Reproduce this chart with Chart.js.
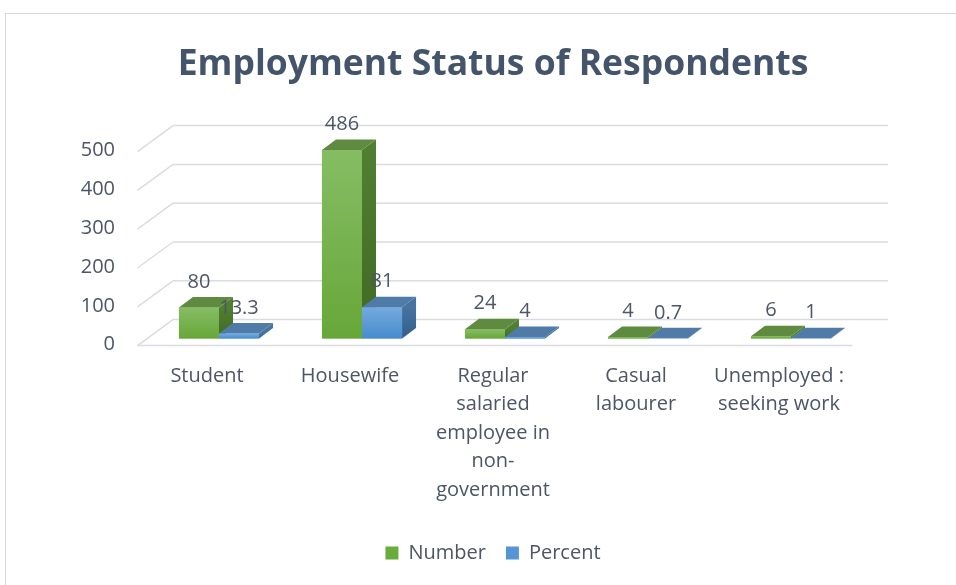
<!DOCTYPE html>
<html>
<head>
<meta charset="utf-8">
<title>Employment Status of Respondents</title>
<script src="https://cdn.jsdelivr.net/npm/chart.js@4.4.0/dist/chart.umd.min.js"></script>
<style>
  html, body { margin: 0; padding: 0; background: #fff; }
  canvas { display: block; }
</style>
</head>
<body>
<canvas id="chart" width="956" height="585"></canvas>
<script>
const categories = [
  'Student',
  'Housewife',
  ['Regular', 'salaried', 'employee in', 'non-', 'government'],
  ['Casual', 'labourer'],
  ['Unemployed :', 'seeking work']
];
const numberValues = [80, 486, 24, 4, 6];
const percentValues = [13.3, 81, 4, 0.7, 1];
const yTicks = [0, 100, 200, 300, 400, 500];

const FONT = '"Open Sans", "Liberation Sans", sans-serif';
const TEXT = '#4d5566';
const GRID = '#d9dce1';

// fake 3d: offsets of the bar depth, the front floor edge and the back wall
const BAR_DEPTH = { dx: 14, dy: -10.5 };
const FRONT_EDGE = { dx: -10, dy: 7 };
const BACK_WALL = { dx: 25.5, dy: -19 };

const faces = [
  { front: ['#86bd64', '#67a739'], side: ['#517f31', '#3e6a22'], top: '#5f8b40' },
  { front: ['#74abde', '#478bcd'], side: ['#46739f', '#325e8b'], top: '#4f7ba6' }
];

function line(ctx, x1, y1, x2, y2) {
  ctx.beginPath();
  ctx.moveTo(x1, y1);
  ctx.lineTo(x2, y2);
  ctx.stroke();
}

function vGradient(ctx, top, bottom, stops) {
  const g = ctx.createLinearGradient(0, top, 0, Math.max(bottom, top + 1));
  g.addColorStop(0, stops[0]);
  g.addColorStop(1, stops[1]);
  return g;
}

function drawBox(ctx, bar, face) {
  const { x, y, base, width } = bar.getProps(['x', 'y', 'base', 'width'], true);
  const x0 = x - width / 2, x1 = x + width / 2;
  const { dx, dy } = BAR_DEPTH;

  ctx.fillStyle = vGradient(ctx, y, base, face.side);
  ctx.beginPath();
  ctx.moveTo(x1, y);
  ctx.lineTo(x1 + dx, y + dy);
  ctx.lineTo(x1 + dx, base + dy);
  ctx.lineTo(x1, base);
  ctx.closePath();
  ctx.fill();

  ctx.fillStyle = face.top;
  ctx.beginPath();
  ctx.moveTo(x0, y);
  ctx.lineTo(x0 + dx, y + dy);
  ctx.lineTo(x1 + dx, y + dy);
  ctx.lineTo(x1, y);
  ctx.closePath();
  ctx.fill();

  ctx.fillStyle = vGradient(ctx, y, base, face.front);
  ctx.fillRect(x0, y, x1 - x0, base - y);
}

const depthPlugin = {
  id: 'depth',

  beforeDraw(chart) {
    const ctx = chart.ctx;
    ctx.save();
    ctx.strokeStyle = '#d9d9d9';
    ctx.lineWidth = 1;
    ctx.strokeRect(5.5, 13.5, chart.width, chart.height);
    ctx.restore();
  },

  beforeDatasetsDraw(chart) {
    const ctx = chart.ctx;
    const { left, right } = chart.chartArea;
    const y = chart.scales.y;

    ctx.save();
    ctx.strokeStyle = GRID;
    ctx.lineWidth = 1.5;
    y.ticks.forEach(t => {
      const py = y.getPixelForValue(t.value);
      line(ctx, left + BACK_WALL.dx, py + BACK_WALL.dy, right + BACK_WALL.dx, py + BACK_WALL.dy);
      line(ctx, left + FRONT_EDGE.dx, py + FRONT_EDGE.dy, left + BACK_WALL.dx, py + BACK_WALL.dy);
    });
    const p0 = y.getPixelForValue(0);
    line(ctx, left + FRONT_EDGE.dx, p0 + FRONT_EDGE.dy, right + FRONT_EDGE.dx, p0 + FRONT_EDGE.dy);
    ctx.restore();
  },

  afterDatasetsDraw(chart) {
    const ctx = chart.ctx;
    const metas = chart.data.datasets.map((ds, i) => chart.getDatasetMeta(i));

    ctx.save();
    categories.forEach((c, i) => {
      metas.forEach((meta, d) => drawBox(ctx, meta.data[i], faces[d]));
    });

    ctx.fillStyle = TEXT;
    ctx.font = '20px ' + FONT;
    ctx.textAlign = 'center';
    ctx.textBaseline = 'middle';
    metas.forEach((meta, d) => {
      meta.data.forEach((bar, i) => {
        const value = chart.data.datasets[d].data[i];
        ctx.fillText(String(value), bar.x, bar.y + BAR_DEPTH.dy - 15);
      });
    });
    ctx.restore();
  }
};

function draw() {
  new Chart(document.getElementById('chart'), {
    type: 'bar',
    data: {
      labels: categories,
      datasets: [
        { label: 'Number', data: numberValues, backgroundColor: '#6aab3e', borderWidth: 0 },
        { label: 'Percent', data: percentValues, backgroundColor: '#5595d4', borderWidth: 0 }
      ]
    },
    options: {
      responsive: false,
      animation: false,
      datasets: {
        bar: { categoryPercentage: 0.56, barPercentage: 1 }
      },
      layout: { padding: { left: 30, right: 0, top: 10, bottom: 12 } },
      scales: {
        x: {
          grid: { display: false, drawTicks: false },
          border: { display: false },
          ticks: {
            autoSkip: false,
            maxRotation: 0,
            padding: 23,
            labelOffset: -12,
            color: TEXT,
            font: { family: FONT, size: 20, lineHeight: 1.43 }
          },
          afterFit(scale) { scale.height = 184.4; }
        },
        y: {
          min: 0,
          max: 500,
          grid: { display: false, drawTicks: false },
          border: { display: false },
          ticks: {
            padding: 32.5,
            labelOffset: 6,
            color: TEXT,
            font: { family: FONT, size: 20 }
          },
          afterBuildTicks(scale) { scale.ticks = yTicks.map(value => ({ value })); },
          afterFit(scale) { scale.width = 117.5; }
        },
        // empty axis that only keeps space free on the right
        yRight: {
          position: 'right',
          grid: { display: false },
          border: { display: false },
          ticks: { display: false },
          afterFit(scale) { scale.width = 93.5; }
        }
      },
      plugins: {
        title: {
          display: true,
          text: 'Employment Status of Respondents',
          color: '#44546a',
          font: { family: FONT, size: 35.5, weight: 'bold', lineHeight: 1.2 },
          padding: { top: 34, bottom: 58 }
        },
        legend: {
          position: 'bottom',
          labels: {
            color: TEXT,
            font: { family: FONT, size: 20 },
            boxWidth: 13,
            boxHeight: 13,
            padding: 20
          }
        },
        tooltip: { enabled: false }
      }
    },
    plugins: [depthPlugin]
  });
}

Promise.all([
  document.fonts.load('20px "Open Sans"'),
  document.fonts.load('bold 35px "Open Sans"')
]).then(draw, draw);
</script>
</body>
</html>
